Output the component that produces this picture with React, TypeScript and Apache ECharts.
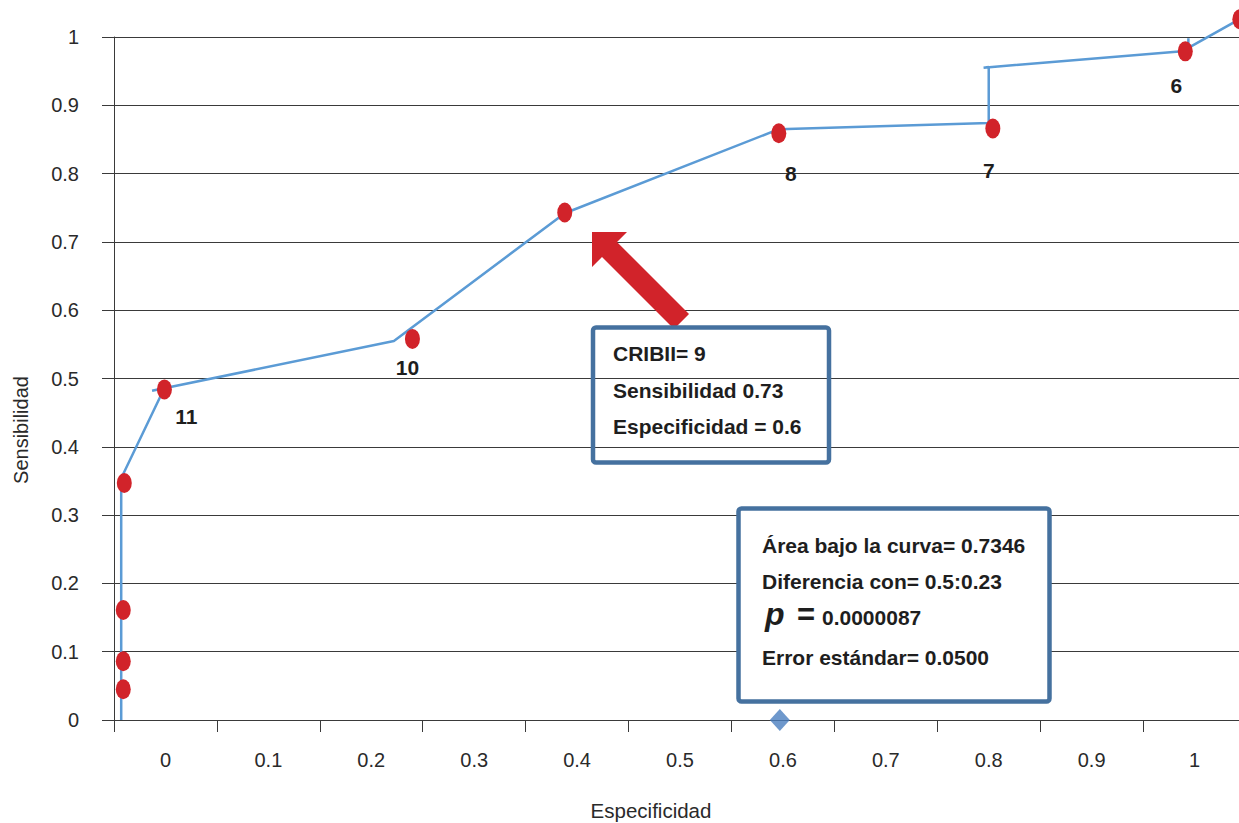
import React, { useEffect, useRef } from 'react';
import * as echarts from 'echarts';

// ---------- data ----------
const categories = ['0', '0.1', '0.2', '0.3', '0.4', '0.5', '0.6', '0.7', '0.8', '0.9', '1'];

// ROC curve polyline (especificidad axis units, sensibilidad)
const curveX = [-0.043, -0.043, -0.001, -0.013, 0.222, 0.388, 0.596, 0.800, 0.800, 0.795, 0.994, 0.994, 0.994, 1.046];
const curveY = [0, 0.354, 0.486, 0.482, 0.555, 0.742, 0.865, 0.874, 0.956, 0.955, 0.980, 0.998, 0.984, 1.028];

// cut-off points (red)
const pointX = [-0.041, -0.041, -0.041, -0.040, -0.001, 0.240, 0.388, 0.596, 0.804, 0.991, 1.044];
const pointY = [0.045, 0.086, 0.161, 0.347, 0.484, 0.558, 0.743, 0.859, 0.866, 0.979, 1.026];
const pointLabels = ['', '', '', '', '11', '10', '', '8', '7', '6', ''];

// reference marker on the x axis
const markerX = [0.597];
const markerY = [0];

const box1Lines = ['CRIBII= 9', 'Sensibilidad 0.73', 'Especificidad = 0.6'];
const box2Lines = ['Área bajo la curva= 0.7346', 'Diferencia con= 0.5:0.23', 'Error estándar= 0.0500'];
const pSymbol = 'p';
const pValue = '0.0000087';

const yTitle = 'Sensibilidad';
const xTitle = 'Especificidad';

// ---------- layout (styles / offsets) ----------
const FONT = "'Liberation Sans', Arial, Helvetica, sans-serif";
const labelOffsets: Record<number, [number, number]> = {
  4: [22, 27],
  5: [-5, 29],
  7: [12, 40],
  8: [-4, 42],
  9: [-9, 34],
};
const AXIS_COLOR = '#3a3a3a';
const BOX_COLOR = '#45719f';
const RED = '#d1232a';
const BLUE = '#5b9bd5';
const ELLIPSE = 'path://M0,10 A7,10 0 1,1 14,10 A7,10 0 1,1 0,10 Z';

export default function App() {
  const ref = useRef<HTMLDivElement>(null);

  useEffect(() => {
    if (!ref.current) return;
    const chart = echarts.init(ref.current, undefined, { renderer: 'svg' });

    const textStyle = (text: string, x: number, y: number, extra: any = {}) => ({
      type: 'text',
      x,
      y,
      z: 110,
      style: {
        text,
        fontFamily: FONT,
        fontSize: 21,
        fontWeight: 'bold',
        fill: '#1e1e1e',
        align: 'left',
        verticalAlign: 'middle',
        ...extra,
      },
    });

    const option: any = {
      animation: false,
      grid: { left: 114, top: 37, width: 1132, height: 683, containLabel: false },
      xAxis: [
        {
          type: 'category',
          data: categories,
          boundaryGap: true,
          axisLine: { show: true, onZero: false, lineStyle: { color: AXIS_COLOR, width: 1 } },
          axisTick: { show: true, length: 12, interval: 0, lineStyle: { color: AXIS_COLOR, width: 1 } },
          axisLabel: { interval: 0, margin: 30, color: '#2a2a2a', fontSize: 20, fontFamily: FONT },
          splitLine: { show: false },
        },
        { type: 'value', min: -0.05, max: 1.05, show: false },
      ],
      yAxis: {
        type: 'value',
        min: 0,
        max: 1,
        interval: 0.1,
        axisLine: { show: true, onZero: false, lineStyle: { color: AXIS_COLOR, width: 1 } },
        axisTick: { show: true, length: 12, lineStyle: { color: AXIS_COLOR, width: 1 } },
        axisLabel: { margin: 35, color: '#2a2a2a', fontSize: 20, fontFamily: FONT },
        splitLine: { show: true, lineStyle: { color: AXIS_COLOR, width: 1 } },
      },
      series: [
        {
          type: 'line',
          xAxisIndex: 1,
          data: curveX.map((x, i) => [x, curveY[i]]),
          symbol: 'none',
          clip: false,
          lineStyle: { color: BLUE, width: 2.5 },
          z: 3,
        },
        {
          type: 'scatter',
          xAxisIndex: 1,
          symbol: ELLIPSE,
          symbolSize: [15, 20],
          clip: false,
          itemStyle: { color: RED, opacity: 1 },
          z: 4,
          data: pointX.map((x, i) => {
            const item: any = { value: [x, pointY[i]] };
            if (pointLabels[i]) {
              item.label = {
                show: true,
                formatter: pointLabels[i],
                position: 'inside',
                offset: labelOffsets[i] || [0, 30],
                color: '#1e1e1e',
                fontSize: 21,
                fontWeight: 'bold',
                fontFamily: FONT,
                align: 'center',
                verticalAlign: 'middle',
              };
            }
            return item;
          }),
        },
        {
          type: 'scatter',
          xAxisIndex: 1,
          symbol: 'diamond',
          symbolSize: [20, 22],
          clip: false,
          itemStyle: { color: '#4a7ebf' },
          z: 5,
          data: markerX.map((x, i) => [x, markerY[i]]),
        },
      ],
      graphic: [
        // arrow
        {
          type: 'polygon',
          z: 100,
          shape: {
            points: [
              [592, 232],
              [627, 232],
              [617, 242],
              [689, 314],
              [674, 329],
              [602, 257],
              [592, 267],
            ],
          },
          style: { fill: RED },
        },
        // box 1 (transparent)
        {
          type: 'rect',
          z: 101,
          shape: { x: 593, y: 327.5, width: 236, height: 135, r: 3 },
          style: { fill: 'none', stroke: BOX_COLOR, lineWidth: 4.5 },
        },
        // box 2 (white)
        {
          type: 'rect',
          z: 101,
          shape: { x: 738.5, y: 508.5, width: 311, height: 193, r: 3 },
          style: { fill: '#ffffff', stroke: BOX_COLOR, lineWidth: 4.5 },
        },
        textStyle(box1Lines[0], 613, 353),
        textStyle(box1Lines[1], 613, 390),
        textStyle(box1Lines[2], 613, 426),
        textStyle(box2Lines[0], 762, 545),
        textStyle(box2Lines[1], 762, 581),
        textStyle(pSymbol, 765, 614, { fontSize: 32, fontStyle: 'italic' }),
        textStyle('=', 797, 614, { fontSize: 31 }),
        textStyle(pValue, 822, 617),
        textStyle(box2Lines[2], 762, 657),
        // axis titles
        {
          type: 'text',
          x: 21,
          y: 430,
          rotation: Math.PI / 2,
          z: 110,
          style: {
            text: yTitle,
            fontFamily: FONT,
            fontSize: 20,
            fill: '#2a2a2a',
            align: 'center',
            verticalAlign: 'middle',
          },
        },
        {
          type: 'text',
          x: 651,
          y: 810,
          z: 110,
          style: {
            text: xTitle,
            fontFamily: FONT,
            fontSize: 20.5,
            fill: '#2a2a2a',
            align: 'center',
            verticalAlign: 'middle',
          },
        },
      ],
    };

    chart.setOption(option);
    return () => chart.dispose();
  }, []);

  return (
    <div
      style={{
        position: 'fixed',
        left: 0,
        top: 0,
        width: 1239,
        height: 823,
        overflow: 'hidden',
        background: '#ffffff',
      }}
    >
      <div ref={ref} style={{ width: 1250, height: 823 }} />
    </div>
  );
}
